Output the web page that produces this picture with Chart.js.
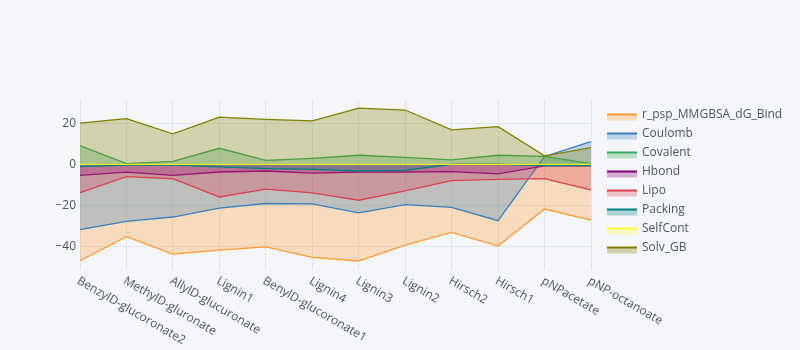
<!DOCTYPE html>
<html>
<head>
<meta charset="utf-8">
<script src="https://cdn.jsdelivr.net/npm/chart.js@4.4.1/dist/chart.umd.min.js"></script>
<style>
    html, body { margin: 0; padding: 0; background: #F5F6F9; }
    #wrap { width: 800px; height: 350px; }
</style>
</head>
<body>
<div id="wrap"><canvas id="mmgbsaChart" width="800" height="350"></canvas></div>
<script>
const categories = [
    "BenzylD-glucoronate2", "MethylD-gluronate", "AllylD-glucuronate", "Lignin1",
    "BenylD-glucoronate1", "Lignin4", "Lignin3", "Lignin2",
    "Hirsch2", "Hirsch1", "pNPacetate", "pNP-octanoate"
];
const dGBind   = [-47.1, -35.3, -43.8, -41.9, -40.3, -45.4, -47.2, -39.4, -33.2, -39.9, -21.8, -27.2];
const coulomb  = [-31.9, -27.8, -25.7, -21.4, -19.1, -19.3, -23.7, -19.6, -21.0, -27.5, 3.9, 11.2];
const covalent = [9.2, 0.4, 1.5, 7.9, 2.0, 3.0, 4.5, 3.5, 2.2, 4.5, 3.9, 0.4];
const hbond    = [-5.3, -3.8, -5.3, -3.7, -3.2, -4.2, -3.7, -3.7, -3.5, -4.6, -0.7, -0.7];
const lipo     = [-13.8, -6.0, -7.0, -15.9, -12.1, -13.9, -17.5, -12.9, -7.9, -7.3, -6.9, -12.4];
const packing  = [-1.1, -0.3, -0.3, -1.2, -2.0, -2.4, -3.2, -2.9, 0.1, 0.1, -0.6, -0.6];
const selfCont = [0, 0, 0, 0, 0, 0, 0, 0, 0, 0, 0, 0];
const solvGB   = [20.2, 22.4, 15.0, 23.1, 22.0, 21.3, 27.5, 26.6, 16.9, 18.5, 4.2, 8.2];
const yTicks   = [-40, -20, 0, 20];

document.addEventListener("DOMContentLoaded", function () {
    const canvas = document.getElementById("mmgbsaChart");
    const textColor = "#4D5663";
    const font = "12px 'Open Sans'";

    function rgba(hex, a) {
        const n = parseInt(hex.slice(1), 16);
        return "rgba(" + (n >> 16) + "," + ((n >> 8) & 255) + "," + (n & 255) + "," + a + ")";
    }

    const series = [
        ["r_psp_MMGBSA_dG_Bind", dGBind, "#ff9933"],
        ["Coulomb", coulomb, "#3780bf"],
        ["Covalent", covalent, "#32ab60"],
        ["Hbond", hbond, "#800080"],
        ["Lipo", lipo, "#db4052"],
        ["Packing", packing, "#008080"],
        ["SelfCont", selfCont, "#ffff33"],
        ["Solv_GB", solvGB, "#808000"]
    ];

    // plotly style legend: line over a filled box
    const legendPlugin = {
        id: "plotlyLegend",
        afterDraw: function (chart) {
            const ctx = chart.ctx;
            ctx.save();
            chart.data.datasets.forEach(function (ds, i) {
                const cy = 114.5 + 19 * i;
                ctx.fillStyle = ds.backgroundColor;
                ctx.fillRect(607, cy, 30, 6);
                ctx.strokeStyle = ds.borderColor;
                ctx.lineWidth = 2;
                ctx.beginPath();
                ctx.moveTo(607, cy);
                ctx.lineTo(637, cy);
                ctx.stroke();
                ctx.fillStyle = textColor;
                ctx.font = font;
                ctx.textBaseline = "middle";
                ctx.textAlign = "left";
                ctx.fillText(ds.label, 642, cy + 0.5);
            });
            ctx.restore();
        }
    };

    // x labels slanting down to the right from each tick
    const xLabelPlugin = {
        id: "slantLabels",
        afterDraw: function (chart) {
            const ctx = chart.ctx;
            const xScale = chart.scales.x;
            ctx.save();
            ctx.fillStyle = textColor;
            ctx.font = font;
            ctx.textAlign = "left";
            ctx.textBaseline = "middle";
            categories.forEach(function (label, i) {
                const x = xScale.getPixelForValue(i);
                ctx.save();
                ctx.translate(x - 2, chart.chartArea.bottom + 10);
                ctx.rotate(Math.PI / 6);
                ctx.fillText(label, 0, 0);
                ctx.restore();
            });
            ctx.restore();
        }
    };

    new Chart(canvas.getContext("2d"), {
        type: "line",
        data: {
            labels: categories,
            datasets: series.map(function (s, i) {
                return {
                    label: s[0],
                    data: s[1],
                    borderColor: s[2],
                    backgroundColor: rgba(s[2], 0.3),
                    borderWidth: 1.3,
                    fill: "origin",
                    pointRadius: 0,
                    tension: 0,
                    // later traces on top, like plotly
                    order: series.length - i
                };
            })
        },
        options: {
            responsive: false,
            animation: false,
            devicePixelRatio: 1,
            layout: {
                padding: { top: 100, right: 209, bottom: 0, left: 0 }
            },
            scales: {
                x: {
                    grid: { color: "#E1E5ED", drawTicks: false },
                    border: { display: false },
                    ticks: { display: false },
                    afterFit: function (scale) { scale.height = 80; }
                },
                y: {
                    min: -51.6,
                    max: 31.5,
                    grid: { color: "#E1E5ED", drawTicks: false },
                    border: { display: false },
                    ticks: {
                        color: textColor,
                        font: { family: "'Open Sans'", size: 12 },
                        padding: 4,
                        callback: function (v) { return v < 0 ? "\u2212" + Math.abs(v) : v; }
                    },
                    afterBuildTicks: function (scale) {
                        scale.ticks = yTicks.map(function (v) { return { value: v }; });
                    },
                    afterFit: function (scale) { scale.width = 80; }
                }
            },
            plugins: {
                legend: { display: false },
                tooltip: { enabled: false }
            }
        },
        plugins: [legendPlugin, xLabelPlugin]
    });
});
</script>
</body>
</html>
